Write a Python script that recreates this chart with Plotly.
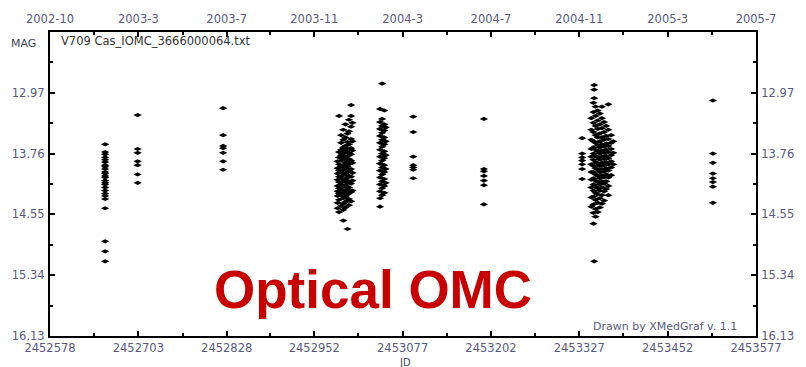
import plotly.graph_objects as go

# ---- photometry (JD, magnitude), grouped by observing season ----
jd_a = [2452656] * 25
mag_a = [13.64, 13.74, 13.77, 13.81, 13.84, 13.87, 13.91, 13.93, 13.96, 14.00,
         14.02, 14.05, 14.07, 14.11, 14.14, 14.16, 14.20, 14.24, 14.28, 14.31,
         14.35, 14.47, 14.90, 15.03, 15.16]

jd_b = [2452702] * 7
mag_b = [13.26, 13.70, 13.75, 13.86, 13.91, 14.03, 14.14]

jd_c = [2452823] * 7
mag_c = [13.17, 13.52, 13.66, 13.69, 13.75, 13.86, 13.97]

# dense run around 2003-12
jd_d = ([2452985] * 9 + [2452987] * 11 + [2452990] * 12 + [2452993] * 15 +
        [2452996] * 14 + [2452999] * 13 + [2453001] * 13 + [2453004] * 12 +
        [2453006] * 7)
mag_d = [13.86, 13.95, 14.02, 14.10, 14.18, 14.25, 14.31, 14.40, 14.47,
         13.27, 13.74, 13.81, 13.90, 13.98, 14.06, 14.13, 14.21, 14.28, 14.36, 14.52,
         13.52, 13.62, 13.71, 13.78, 13.85, 13.93, 14.00, 14.08, 14.16, 14.23, 14.30, 14.44,
         13.45, 13.58, 13.68, 13.76, 13.83, 13.91, 13.97, 14.04, 14.12, 14.19, 14.27, 14.34,
         14.41, 14.49, 14.63,
         13.38, 13.55, 13.66, 13.73, 13.80, 13.88, 13.95, 14.02, 14.10, 14.17, 14.24, 14.32,
         14.39, 14.46,
         13.50, 13.61, 13.70, 13.79, 13.86, 13.93, 14.00, 14.07, 14.14, 14.22, 14.29, 14.37,
         14.74,
         13.32, 13.47, 13.64, 13.75, 13.83, 13.90, 13.98, 14.05, 14.12, 14.20, 14.27, 14.35,
         14.43,
         13.13, 13.27, 13.41, 13.57, 13.69, 13.77, 13.85, 13.96, 14.06, 14.15, 14.26, 14.38,
         13.36, 13.60, 13.72, 13.88, 14.01, 14.11, 14.24]

# second run, 2004-2
jd_e = [2453045] * 14 + [2453048] * 13 + [2453051] * 12 + [2453053] * 5
mag_e = [13.18, 13.35, 13.44, 13.53, 13.62, 13.71, 13.80, 13.89, 13.98, 14.07, 14.16,
         14.25, 14.34, 14.45,
         12.85, 13.31, 13.40, 13.49, 13.58, 13.67, 13.76, 13.85, 13.94, 14.03, 14.12,
         14.21, 14.30,
         13.20, 13.38, 13.46, 13.55, 13.64, 13.73, 13.82, 13.91, 14.00, 14.09, 14.18, 14.27,
         13.42, 13.60, 13.78, 13.96, 14.14]

jd_f = [2453092] * 7
mag_f = [13.28, 13.48, 13.80, 13.91, 13.94, 13.97, 14.08]

jd_g = [2453192] * 7
mag_g = [13.31, 13.96, 13.99, 14.05, 14.11, 14.17, 14.42]

# dense run around 2004-12
jd_h = ([2453331] * 7 + [2453344] * 11 + [2453347] * 17 + [2453348] * 4 +
        [2453350] * 16 + [2453353] * 15 + [2453356] * 14 + [2453359] * 14 +
        [2453362] * 12 + [2453365] * 10 + [2453368] * 11 + [2453372] * 7 +
        [2453375] * 3)
mag_h = [13.56, 13.76, 13.81, 13.85, 13.90, 13.96, 14.09,
         13.30, 13.45, 13.58, 13.70, 13.80, 13.90, 14.00, 14.10, 14.20, 14.33, 14.45,
         13.10, 13.22, 13.36, 13.48, 13.60, 13.68, 13.76, 13.84, 13.92, 14.00, 14.08,
         14.16, 14.24, 14.32, 14.42, 14.53, 14.67,
         12.87, 12.93, 13.04, 15.16,
         13.15, 13.27, 13.40, 13.52, 13.62, 13.71, 13.79, 13.87, 13.95, 14.03, 14.11,
         14.19, 14.27, 14.36, 14.48, 14.58,
         13.20, 13.33, 13.44, 13.55, 13.65, 13.73, 13.81, 13.89, 13.97, 14.05, 14.13,
         14.21, 14.29, 14.40, 14.52,
         13.24, 13.38, 13.50, 13.60, 13.68, 13.76, 13.84, 13.92, 14.00, 14.08, 14.16,
         14.24, 14.34, 14.46,
         13.15, 13.30, 13.43, 13.55, 13.64, 13.72, 13.80, 13.88, 13.96, 14.04, 14.12,
         14.20, 14.30, 14.41,
         13.35, 13.48, 13.58, 13.67, 13.75, 13.83, 13.91, 13.99, 14.07, 14.15, 14.25, 14.37,
         13.40, 13.53, 13.63, 13.71, 13.79, 13.87, 13.95, 14.03, 14.12, 14.22,
         13.12, 13.45, 13.57, 13.66, 13.74, 13.82, 13.90, 13.98, 14.07, 14.18, 14.30,
         13.52, 13.62, 13.70, 13.78, 13.86, 13.94, 14.04,
         13.60, 13.75, 13.90]

jd_i = [2453516] * 8
mag_i = [13.07, 13.76, 13.88, 14.02, 14.08, 14.13, 14.19, 14.40]

# ---- axes ----
jd_ticks = [2452578, 2452703, 2452828, 2452952, 2453077, 2453202, 2453327, 2453452, 2453577]
date_labels = ["2002-10", "2003-3", "2003-7", "2003-11", "2004-3", "2004-7",
               "2004-11", "2005-3", "2005-7"]
mag_ticks = [12.97, 13.76, 14.55, 15.34, 16.13]
mag_top, mag_bottom = 12.18, 16.13

jd_all = jd_a + jd_b + jd_c + jd_d + jd_e + jd_f + jd_g + jd_h + jd_i
mag_all = mag_a + mag_b + mag_c + mag_d + mag_e + mag_f + mag_g + mag_h + mag_i

jd_minor = [(a + b) / 2 for a, b in zip(jd_ticks[:-1], jd_ticks[1:])]
mag_minor = [(a + b) / 2 for a, b in zip([mag_top] + mag_ticks[:-1], mag_ticks)]

LABEL = "#5a5a80"
tick_font = dict(family="DejaVu Sans", size=11.5, color=LABEL)

fig = go.Figure()
fig.add_trace(go.Scatter(
    x=jd_all, y=mag_all, mode="markers",
    marker=dict(symbol="diamond-wide", size=6, color="black", line=dict(width=0)),
    showlegend=False, hoverinfo="x+y",
))
# empty trace so the mirrored top/right axes are drawn
fig.add_trace(go.Scatter(x=[], y=[], xaxis="x2", yaxis="y2", showlegend=False))

xcommon = dict(
    range=[jd_ticks[0], jd_ticks[-1]], tickmode="array", tickvals=jd_ticks,
    ticks="inside", ticklen=5, tickwidth=2, tickcolor="black",
    showline=True, linecolor="black", linewidth=2, showgrid=False, zeroline=False,
    tickfont=tick_font,
    minor=dict(tickvals=jd_minor, ticks="inside", ticklen=3, tickwidth=2,
               tickcolor="black", showgrid=False),
)
ycommon = dict(
    range=[mag_bottom, mag_top], tickmode="array", tickvals=mag_ticks,
    ticktext=[f"{v:.2f}" for v in mag_ticks],
    ticks="inside", ticklen=5, tickwidth=2, tickcolor="black",
    showline=True, linecolor="black", linewidth=2, showgrid=False, zeroline=False,
    tickfont=tick_font,
    minor=dict(tickvals=mag_minor, ticks="inside", ticklen=3, tickwidth=2,
               tickcolor="black", showgrid=False),
)

fig.update_layout(
    width=806, height=367,
    margin=dict(l=44, r=44, t=28, b=28),
    paper_bgcolor="white", plot_bgcolor="white",
    xaxis=dict(xcommon, ticktext=[str(v) for v in jd_ticks], ticklabelstandoff=0),
    xaxis2=dict(xcommon, ticktext=date_labels, overlaying="x", side="top",
                anchor="y", ticklabelstandoff=2),
    yaxis=dict(ycommon, ticklabelstandoff=1),
    yaxis2=dict(ycommon, overlaying="y", side="right", anchor="x",
                ticklabelstandoff=1),
    font=dict(family="DejaVu Sans"),
)

annots = [
    dict(text="MAG", x=-0.0376, y=0.961, xanchor="center", yanchor="middle",
         font=dict(family="DejaVu Sans", size=11, color="#444455")),
    dict(text="V709 Cas_IOMC_3666000064.txt", x=0.0125, y=0.971, xanchor="left",
         yanchor="middle", font=dict(family="DejaVu Sans", size=11.5, color="#333333")),
    dict(text="JD", x=0.5035, y=-0.086, xanchor="center", yanchor="middle",
         font=dict(family="DejaVu Sans", size=10, color="#444455")),
    dict(text="Drawn by XMedGraf v. 1.1", x=0.9763, y=0.0305, xanchor="right",
         yanchor="middle", font=dict(family="DejaVu Sans", size=11, color=LABEL)),
    dict(text="<b>Optical OMC</b>", x=0.4568, y=0.1543, xanchor="center",
         yanchor="middle",
         font=dict(family="Liberation Sans", size=53, color="#c80000")),
]
for a in annots:
    fig.add_annotation(xref="paper", yref="paper", showarrow=False, **a)

fig.write_html("out.html")
